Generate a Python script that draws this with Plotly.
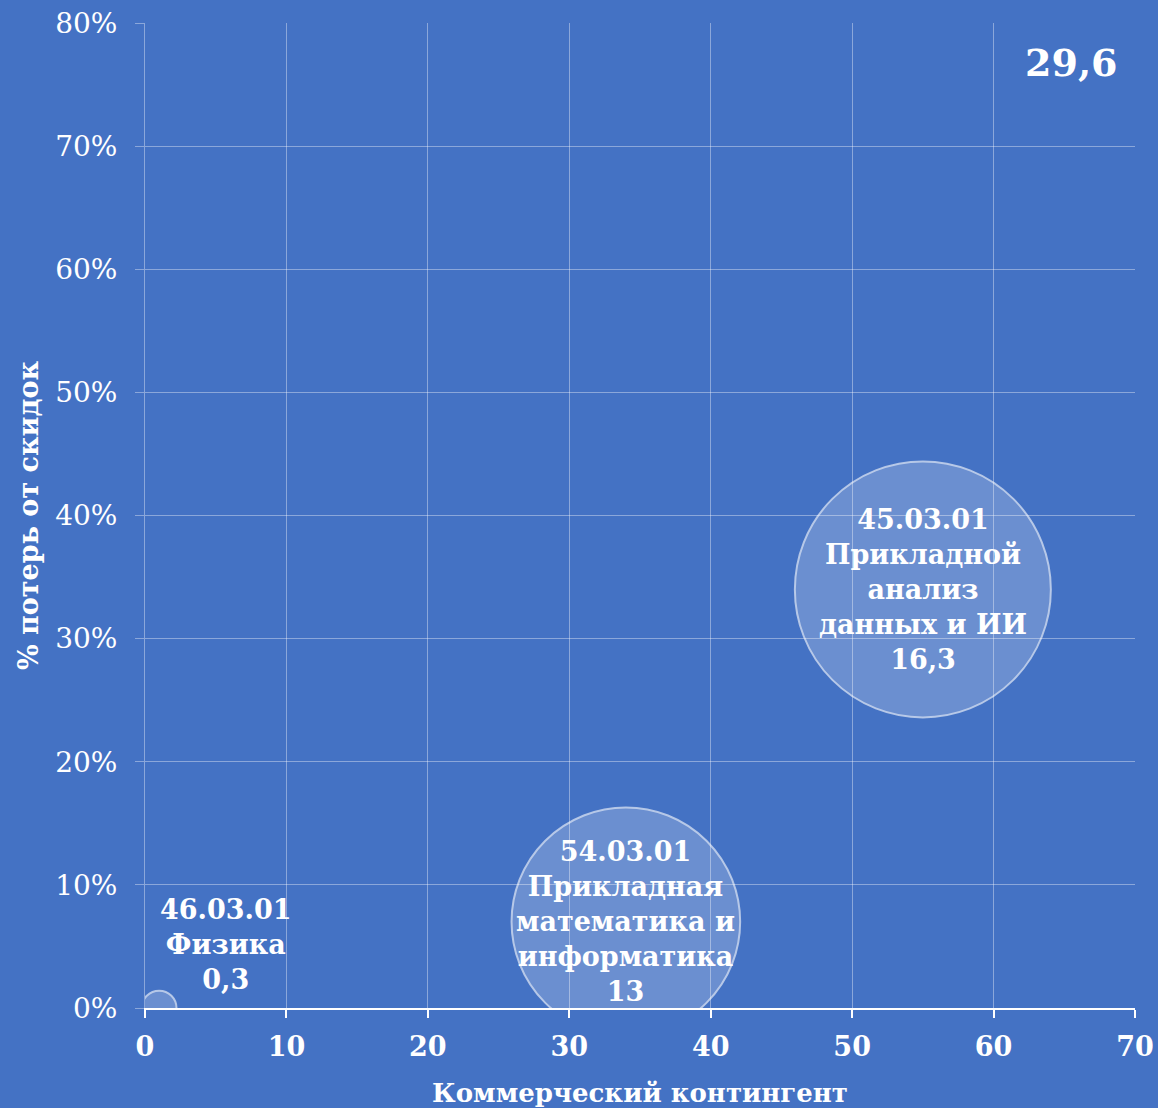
import plotly.graph_objects as go

# Data
codes = ["46.03.01", "54.03.01", "45.03.01"]
names = ["Физика", "Прикладная<br>математика и<br>информатика", "Прикладной<br>анализ<br>данных и ИИ"]
x_vals = [1, 34, 55]            # Коммерческий контингент
y_vals = [0.0, 0.07, 0.34]      # % потерь от скидок
sizes = [0.3, 13, 16.3]         # bubble size value
size_labels = ["0,3", "13", "16,3"]
total_label = "29,6"
x_ticks = [0, 10, 20, 30, 40, 50, 60, 70]
y_ticks = [0, 0.1, 0.2, 0.3, 0.4, 0.5, 0.6, 0.7, 0.8]

BG = "#4472C4"
FONT = "DejaVu Serif"
GRID = "rgba(255,255,255,0.38)"

max_diam = 256
sizeref = 2.0 * max(sizes) / max_diam ** 2

fig = go.Figure()
fig.add_trace(go.Scatter(
    x=x_vals, y=y_vals, mode="markers",
    marker=dict(size=sizes, sizemode="area", sizeref=sizeref,
                color="rgba(255,255,255,0.30)",
                line=dict(color="rgba(255,255,255,0.85)", width=2)),
    cliponaxis=True, hoverinfo="skip", showlegend=False,
))

labels = [f"{c}<br>{n}<br>{s}" for c, n, s in zip(codes, names, size_labels)]
# Label placement: Физика above-right, others centered
xshifts = [67, 0, 0]
yshifts = [64, 0, 0]
for xv, yv, lab, xs, ys in zip(x_vals, y_vals, labels, xshifts, yshifts):
    fig.add_annotation(x=xv, y=yv, text=lab, showarrow=False,
                       xshift=xs, yshift=ys, align="center",
                       font=dict(family=FONT, size=27, color="white", weight="bold"))

fig.add_annotation(x=0.985, y=0.985, xref="paper", yref="paper", xanchor="right", yanchor="top",
                   text=total_label, showarrow=False,
                   font=dict(family=FONT, size=38, color="white", weight="bold"))

fig.update_layout(
    width=1158, height=1108,
    paper_bgcolor=BG, plot_bgcolor=BG,
    margin=dict(l=145, r=23, t=23, b=100),
    xaxis=dict(range=[0, 70], tickvals=x_ticks, ticktext=[str(v) for v in x_ticks],
               showgrid=True, gridcolor=GRID, gridwidth=1, automargin=False,
               zeroline=False, showline=True, linecolor="white", linewidth=2,
               ticks="outside", ticklen=8, tickcolor="white", tickwidth=2,
               ticklabelstandoff=6,
               tickfont=dict(family=FONT, size=27, color="white", weight="bold"),
               title=dict(text="Коммерческий контингент", standoff=30,
                          font=dict(family=FONT, size=26, color="white", weight="bold"))),
    yaxis=dict(range=[0, 0.8], tickvals=y_ticks, tickformat=".0%",
               showgrid=True, gridcolor=GRID, gridwidth=1, automargin=False,
               zeroline=False, showline=True, linecolor=GRID, linewidth=1,
               ticks="outside", ticklen=9, tickcolor=GRID,
               ticklabelstandoff=12,
               tickfont=dict(family=FONT, size=28, color="white"),
               title=dict(text="% потерь от скидок", standoff=8,
                          font=dict(family=FONT, size=27, color="white", weight="bold"))),
)

fig.write_html("out.html", config={"displayModeBar": False},
               post_script="document.body.style.margin='0';document.body.style.background='%s';" % BG)
